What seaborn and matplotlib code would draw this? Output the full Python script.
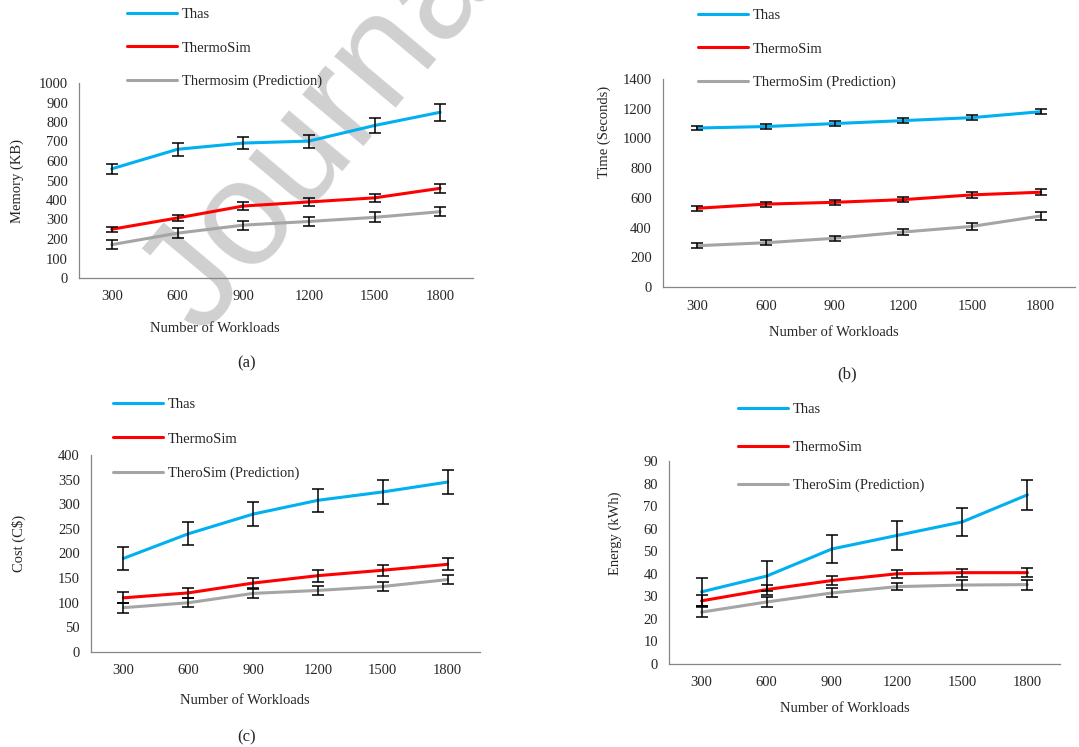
import numpy as np
import pandas as pd
import matplotlib
matplotlib.use("Agg")
import matplotlib.pyplot as plt
import seaborn as sns

# x values shared by all four panels
workloads = [300, 600, 900, 1200, 1500, 1800]

# (a) memory
mem_thas = [560, 660, 692, 702, 782, 850]
mem_thas_err = [27, 33, 33, 33, 37, 43]
mem_thermo = [250, 308, 369, 390, 411, 460]
mem_thermo_err = [13, 17, 19, 19, 20, 23]
mem_pred = [171, 230, 271, 290, 311, 340]
mem_pred_err = [22, 25, 23, 25, 26, 24]

# (b) time
time_thas = [1070, 1080, 1100, 1120, 1140, 1180]
time_thas_err = [16, 16, 16, 17, 17, 17]
time_thermo = [530, 558, 570, 588, 620, 638]
time_thermo_err = [17, 17, 17, 18, 18, 20]
time_pred = [278, 298, 328, 370, 408, 478]
time_pred_err = [15, 17, 17, 20, 22, 27]

# (c) cost
cost_thas = [190, 240, 280, 308, 325, 345]
cost_thas_err = [24, 23, 24, 23, 24, 24]
cost_thermo = [110, 120, 140, 155, 166, 178]
cost_thermo_err = [11, 10, 11, 12, 11, 12]
cost_pred = [90, 100, 119, 125, 133, 147]
cost_pred_err = [10, 9, 9, 9, 9, 9]

# (d) energy
en_thas = [32, 39, 51, 57, 63, 75]
en_thas_err = [6.3, 6.5, 6.3, 6.4, 6.3, 6.7]
en_thermo = [28, 33, 37, 40, 40.5, 40.5]
en_thermo_err = [2.5, 2.2, 2.0, 1.7, 1.8, 1.9]
en_pred = [23, 27.5, 31.5, 34.3, 35.0, 35.2]
en_pred_err = [2.3, 2.1, 2.0, 1.7, 2.1, 2.2]

colors = ["#00B0F0", "#FF0000", "#A5A5A5"]

W, H = 1079, 747
sns.set_style("white")
plt.rcParams["font.family"] = ["Liberation Serif", "DejaVu Serif"]
fig = plt.figure(figsize=(W / 100, H / 100), dpi=100)


def px_box(left, top, right, bottom):
    return [left / W, 1 - bottom / H, (right - left) / W, (bottom - top) / H]


def panel(box, names, series, errors, ymax, ystep, ylabel, ylab_xy, xlab_xy,
          leg_xy, leg_space, caption=None, cap_xy=None):
    ax = fig.add_axes(px_box(*box))
    ax.patch.set_visible(False)
    rows = []
    for name, vals in zip(names, series):
        for w, v in zip(workloads, vals):
            rows.append({"workloads": w, "value": v, "series": name})
    df = pd.DataFrame(rows)
    sns.lineplot(data=df, x="workloads", y="value", hue="series",
                 palette=colors, linewidth=2.2, errorbar=None, ax=ax, zorder=2)
    for vals, err in zip(series, errors):
        ax.errorbar(workloads, vals, yerr=err, fmt="none", ecolor="black",
                    elinewidth=1.1, capsize=4.5, capthick=1.1, zorder=3)

    ax.set_xlim(150, 1950)
    ax.set_xticks(workloads)
    ax.set_ylim(0, ymax)
    ax.set_yticks(np.arange(0, ymax + ystep / 2, ystep))
    ax.set_xlabel("")
    ax.set_ylabel("")
    for s in ["top", "right"]:
        ax.spines[s].set_visible(False)
    for s in ["left", "bottom"]:
        ax.spines[s].set_color("#868686")
        ax.spines[s].set_linewidth(0.9)
    ax.tick_params(axis="y", length=4, color="#868686", pad=4, labelsize=10.5)
    ax.tick_params(axis="x", length=0, pad=9, labelsize=10.5)

    fig.text(ylab_xy[0] / W, 1 - ylab_xy[1] / H, ylabel, rotation=90,
             ha="center", va="center", fontsize=10.5)
    fig.text(xlab_xy[0] / W, 1 - xlab_xy[1] / H, "Number of Workloads",
             ha="center", va="center", fontsize=10.5)
    if caption:
        fig.text(cap_xy[0] / W, 1 - cap_xy[1] / H, caption,
                 ha="center", va="center", fontsize=12)

    # legend stacked above the plot
    old = ax.get_legend()
    handles = old.legend_handles
    labels = [t.get_text() for t in old.texts]
    ax.legend(handles, labels, loc="upper left",
              bbox_to_anchor=(leg_xy[0] / W, 1 - leg_xy[1] / H),
              bbox_transform=fig.transFigure, frameon=False, borderpad=0,
              borderaxespad=0, handlelength=3.4, handletextpad=0.35,
              labelspacing=leg_space, fontsize=10.5)
    return ax


panel((79, 83, 473, 278), ["Thas", "ThermoSim", "Thermosim (Prediction)"],
      [mem_thas, mem_thermo, mem_pred],
      [mem_thas_err, mem_thermo_err, mem_pred_err],
      1000, 100, "Memory (KB)", (17, 181), (215, 328), (127, 8), 1.38,
      "(a)", (247, 363))

panel((663, 79, 1075, 287), ["Thas", "ThermoSim", "ThermoSim (Prediction)"],
      [time_thas, time_thermo, time_pred],
      [time_thas_err, time_thermo_err, time_pred_err],
      1400, 200, "Time (Seconds)", (604, 132), (834, 333), (698, 9), 1.38,
      "(b)", (847, 374))

panel((91, 455, 480, 652), ["Thas", "ThermoSim", "TheroSim (Prediction)"],
      [cost_thas, cost_thermo, cost_pred],
      [cost_thas_err, cost_thermo_err, cost_pred_err],
      400, 50, "Cost (C$)", (19, 543), (245, 701), (113, 398), 1.45,
      "(c)", (247, 737))

panel((669, 461, 1060, 664), ["Thas", "ThermoSim", "TheroSim (Prediction)"],
      [en_thas, en_thermo, en_pred],
      [en_thas_err, en_thermo_err, en_pred_err],
      90, 10, "Energy (kWh)", (615, 533), (845, 708), (738, 403), 1.7)

# watermark behind the charts
fig.text(330 / W, 1 - 123 / H, "Journal", rotation=50, ha="center", va="center",
         fontsize=108, color="#d0d0d0", family="Liberation Sans", zorder=-1)

fig.savefig("out.png", dpi=100)
